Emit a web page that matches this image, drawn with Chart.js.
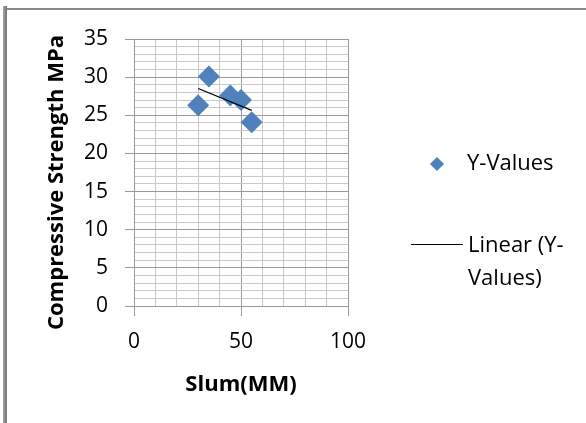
<!DOCTYPE html>
<html>
<head>
<meta charset="utf-8">
<script src="https://cdn.jsdelivr.net/npm/chart.js@4.4.1/dist/chart.umd.min.js"></script>
<style>
  body { margin: 0; background: #fff; }
  #wrap { position: relative; width: 586px; height: 423px; overflow: hidden; font-family: "Open Sans", sans-serif; }
  #frameLeft { position: absolute; left: 3px; top: 6px; width: 2px; height: 417px; background: #9a9a9a; border-right: 2px solid #7d7d7d; }
  #frameTop { position: absolute; left: 7px; top: 8px; right: 0; height: 2px; background: #8a8a8a; }
  canvas { position: absolute; left: 0; top: 0; }
  .leg { position: absolute; font-size: 22px; color: #000; line-height: 33px; white-space: nowrap; }
  .diamond { position: absolute; width: 10px; height: 10px; background: #4F81BD; transform: rotate(45deg); }
  .legline { position: absolute; height: 1px; background: #000; }
</style>
</head>
<body>
<div id="wrap">
  <canvas id="chart" width="586" height="423"></canvas>
  <div id="frameLeft"></div>
  <div id="frameTop"></div>
  <div class="diamond" style="left:432px; top:159px;"></div>
  <div class="leg" style="left:467px; top:145px;">Y-Values</div>
  <div class="legline" style="left:411px; top:244px; width:52px;"></div>
  <div class="leg" style="left:468px; top:227px;">Linear (Y-<br>Values)</div>
</div>
<script>
// slump (mm) vs compressive strength (MPa)
const slump = [30, 35, 45, 50, 55];
const strength = [26.3, 30.1, 27.6, 27.0, 24.1];

const xTicksMax = 100;
const yTicksMax = 35;

const FONT = '"Open Sans", sans-serif';
const MAJOR = '#9a9a9a';
const MINOR = '#cacaca';

// least squares trend line over the points
function linearFit(xs, ys) {
    const n = xs.length;
    const mx = xs.reduce((a, b) => a + b, 0) / n;
    const my = ys.reduce((a, b) => a + b, 0) / n;
    let sxy = 0, sxx = 0;
    for (let i = 0; i < n; i++) {
        sxy += (xs[i] - mx) * (ys[i] - my);
        sxx += (xs[i] - mx) * (xs[i] - mx);
    }
    const m = sxy / sxx;
    return x => my + m * (x - mx);
}
const fit = linearFit(slump, strength);
const xMin = Math.min(...slump), xMax = Math.max(...slump);

const points = slump.map((x, i) => ({ x: x, y: strength[i] }));
const trend = [{ x: xMin, y: fit(xMin) }, { x: xMax, y: fit(xMax) }];

// y title sits a bit lower than the plot centre in the original
function nudgeTitle(s) {
    s.width = 134;
    if (s._nudged) return;
    s._nudged = true;
    const orig = s.drawTitle.bind(s);
    s.drawTitle = function () {
        s.ctx.save();
        s.ctx.translate(0, 10);
        orig();
        s.ctx.restore();
    };
}

new Chart(document.getElementById('chart'), {
    type: 'scatter',
    data: {
        datasets: [
            {
                label: 'Y-Values',
                data: points,
                pointStyle: 'rectRot',
                pointRadius: 11,
                pointHoverRadius: 11,
                backgroundColor: '#4F81BD',
                borderColor: '#4F81BD',
                borderWidth: 0,
                order: 2
            },
            {
                label: 'Linear (Y-Values)',
                type: 'line',
                data: trend,
                borderColor: '#000',
                borderWidth: 1.2,
                pointRadius: 0,
                fill: false,
                order: 1
            }
        ]
    },
    options: {
        responsive: false,
        animation: false,
        layout: { padding: { left: 0, top: 39, right: 238, bottom: 0 } },
        plugins: {
            legend: { display: false },
            tooltip: { enabled: false }
        },
        scales: {
            x: {
                type: 'linear',
                min: 0,
                max: xTicksMax,
                afterFit: s => { s.height = 117; },
                ticks: {
                    stepSize: 10,
                    autoSkip: false,
                    maxRotation: 0,
                    padding: 13,
                    color: '#000',
                    font: { family: FONT, size: 21 },
                    callback: v => (v % 50 === 0 ? v : '')
                },
                grid: {
                    color: c => (c.tick && c.tick.value % 50 === 0 ? MAJOR : MINOR),
                    tickColor: c => (c.tick && c.tick.value % 50 === 0 ? MAJOR : 'rgba(0,0,0,0)'),
                    tickLength: 10
                },
                border: { color: MAJOR },
                title: {
                    display: true,
                    text: 'Slum(MM)',
                    color: '#000',
                    font: { family: FONT, size: 22, weight: 'bold' },
                    padding: { top: 0, bottom: 25 }
                }
            },
            y: {
                type: 'linear',
                min: 0,
                max: yTicksMax,
                afterFit: nudgeTitle,
                ticks: {
                    stepSize: 1,
                    autoSkip: false,
                    padding: 17,
                    color: '#000',
                    font: { family: FONT, size: 21 },
                    callback: v => (v % 5 === 0 ? v : '')
                },
                grid: {
                    color: c => (c.tick && c.tick.value % 5 === 0 ? MAJOR : MINOR),
                    tickColor: c => (c.tick && c.tick.value % 5 === 0 ? MAJOR : 'rgba(0,0,0,0)'),
                    tickLength: 9
                },
                border: { color: MAJOR },
                title: {
                    display: true,
                    text: 'Compressive Strength MPa',
                    color: '#000',
                    font: { family: FONT, size: 22, weight: 'bold' },
                    padding: { top: 44, bottom: 0 }
                }
            }
        }
    }
});
</script>
</body>
</html>
